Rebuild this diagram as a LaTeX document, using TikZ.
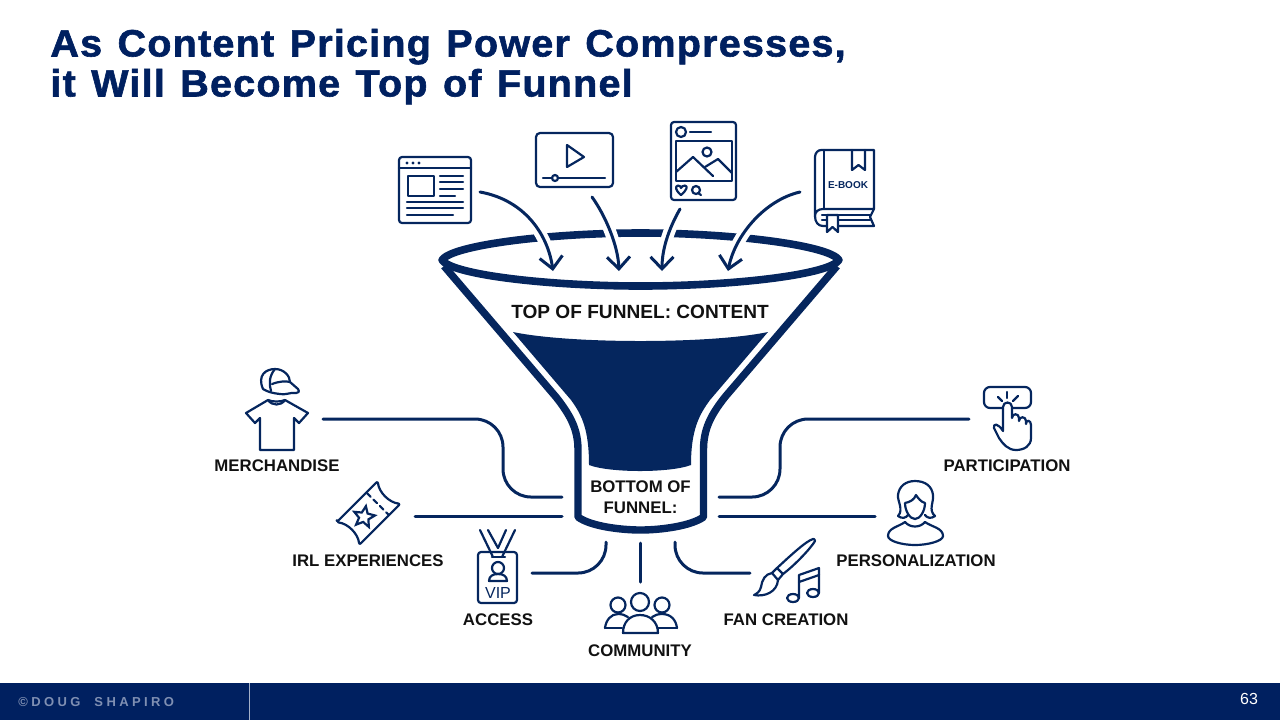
\documentclass[tikz,border=0pt]{standalone}
\usepackage{fontspec}
\setmainfont{Liberation Sans}
\newfontfamily\titlefont[LetterSpace=3.2, WordSpace=1.27, FakeStretch=1.04, BoldFeatures={FakeBold=1.6}]{Liberation Sans}
\newfontfamily\footfont[LetterSpace=26, WordSpace=2]{Liberation Sans}
\usetikzlibrary{calc, arrows.meta, shapes.geometric}
\definecolor{navy}{HTML}{002060}
\definecolor{funnelnavy}{HTML}{05265E}
\definecolor{inkblack}{HTML}{111111}
\definecolor{footgray}{HTML}{7F8FB2}
\tikzset{
  wall/.style={draw=funnelnavy, line width=3.7pt, line join=round},
  flow/.style={draw=funnelnavy, line width=1.5pt, line cap=round,
    -{Straight Barb[length=6pt,width=11.5pt,line width=1.5pt]}},
  link/.style={draw=funnelnavy, line width=1.5pt, line cap=round},
  icon/.style={draw=funnelnavy, line width=1.1pt, line join=round, line cap=round},
  tag/.style={font=\bfseries\fontsize{8.4}{10}\selectfont, text=inkblack, inner sep=0pt, align=center},
}
\begin{document}
\begin{tikzpicture}[x=0.5pt, y=-0.5pt]
  \useasboundingbox (0,0) rectangle (1280,720);

  % footer
  \fill[navy] (0,683) rectangle (1280,720);
  \draw[footgray!70!white, line width=0.5pt] (249,683) -- (249,720);
  \node[anchor=west, inner sep=0pt, text=footgray, font=\footfont\bfseries\fontsize{6.5}{8}\selectfont] (copy) at (18,702) {©DOUG SHAPIRO};
  \node[text=white, inner sep=0pt, font=\fontsize{8}{10}\selectfont] (pageno) at (1249,699) {63};

  % title
  \node[anchor=north west, inner sep=0pt, align=left, text=navy, font=\titlefont\bfseries\fontsize{19}{20}\selectfont] (title) at (50,28.5)
    {As Content Pricing Power Compresses,\\it Will Become Top of Funnel};

  % funnel
  \coordinate (rimL) at (442,260);
  \coordinate (rimR) at (839,260);
  \draw[wall, line width=3.8pt] (rimL) .. controls (452,245) and (550,233) .. (640.5,233)
    .. controls (731,233) and (829,245) .. (rimR)
    .. controls (829,275) and (731,286) .. (640.5,286)
    .. controls (550,286) and (452,275) .. (rimL) -- cycle;
  \draw[wall] (444,266) -- (556,397) .. controls (571,416) and (578,430) .. (578,450) -- (578,517)
    .. controls (590,526) and (620,530) .. (640.5,530) .. controls (661,530) and (691,526) .. (703.5,517)
    -- (703.5,450) .. controls (703.5,430) and (710,416) .. (725,397) -- (837,266);
  \fill[funnelnavy] (513,332) .. controls (570,344) and (711,344) .. (768,332)
    -- (710,400) .. controls (699,415) and (691,430) .. (691,465)
    .. controls (670,473) and (610,473) .. (589,465)
    .. controls (589,430) and (582,415) .. (571,400) -- cycle;
  \node[tag, font=\bfseries\fontsize{9.55}{12}\selectfont] (topfunnel) at (640,312) {TOP OF FUNNEL: CONTENT};
  \node[tag, font=\bfseries\fontsize{8.4}{10.6}\selectfont] (botfunnel) at (640.5,497.5) {BOTTOM OF\\FUNNEL:};

  % arrows into the funnel
  \coordinate (webout) at (480,192);
  \coordinate (videoout) at (592,197);
  \coordinate (photoout) at (680,209);
  \coordinate (bookout) at (800,192);
  \coordinate (tipA) at (553,271);
  \coordinate (tipB) at (619,271);
  \coordinate (tipC) at (662,271);
  \coordinate (tipD) at (728,271);
  \tikzset{casing/.style={preaction={draw=white, line width=6pt, -}}}
  \draw[flow, casing] (webout) .. controls (525,200) and (548,235) .. (tipA);
  \draw[flow, casing] (videoout) .. controls (605,215) and (618,245) .. (tipB);
  \draw[flow, casing] (photoout) .. controls (668,230) and (662,250) .. (tipC);
  \draw[flow, casing] (bookout) .. controls (765,200) and (735,235) .. (tipD);

  % web page
  \draw[icon, rounded corners=1.5pt] (399,157) rectangle (471,223);
  \draw[icon] (399,168) -- (471,168);
  \foreach \x in {407,413,419} \fill[funnelnavy] (\x,163) circle (1.6);
  \draw[icon] (408,176) rectangle (434,196);
  \foreach \y/\xe in {176/463,182/463,189/463,196/455} \draw[icon] (440,\y) -- (\xe,\y);
  \foreach \y/\xe in {202/463,208/463,215/453} \draw[icon] (407,\y) -- (\xe,\y);

  % video
  \draw[icon, rounded corners=2pt] (536,133) rectangle (613,187);
  \draw[icon] (567,145) -- (584,157) -- (567,167) -- cycle;
  \draw[icon] (543,178) -- (605,178);
  \draw[icon, fill=white] (555,178) circle (3);

  % photo post
  \draw[icon, rounded corners=1.5pt] (671,122) rectangle (736,200);
  \draw[icon] (681,132) circle (5);
  \draw[icon] (690,132) -- (711,132);
  \draw[icon] (676,141) rectangle (732,181);
  \draw[icon] (707,152) circle (4.5);
  \draw[icon] (676,172) -- (693,157) -- (713,176);
  \draw[icon] (705,167) -- (718,159) -- (732,173);
  \draw[icon] (681,195) .. controls (675,190) and (675,186) .. (678,185.5) .. controls (680,185.5) and (681,187) .. (681,188)
    .. controls (681,187) and (683,185.5) .. (685,185.5) .. controls (688,186) and (687,190) .. (681,195) -- cycle;
  \draw[icon] (696,190) circle (4);
  \draw[icon] (698,193) -- (701,195);

  % book
  \draw[icon] (821,150) -- (874,150) -- (874,209) -- (823,209) .. controls (818,209) and (815,212) .. (815,216) -- (815,157) .. controls (815,153) and (818,150) .. (821,150) -- cycle;
  \draw[icon] (815,216) .. controls (815,222) and (818,226) .. (823,226) -- (874,226);
  \draw[icon] (824,150) -- (824,209);
  \draw[icon] (822,215) -- (870,215);
  \draw[icon] (822,220) -- (870,220);
  \draw[icon] (874,209) -- (870,217) -- (874,226);
  \draw[icon] (852,150) -- (852,170) -- (858.5,165) -- (865,170) -- (865,150);
  \draw[icon, fill=white] (827,215) -- (827,232) -- (832.5,227) -- (838,232) -- (838,215) -- cycle;
  \node[inner sep=0pt, text=funnelnavy, font=\bfseries\fontsize{5}{6}\selectfont] (ebook) at (848,185) {E-BOOK};

  % connectors at the bottom of the funnel
  \coordinate (merchout) at (323,419);
  \coordinate (merchturn) at (503,497);
  \coordinate (botmerch) at (562,497);
  \coordinate (irlout) at (415,516);
  \coordinate (botirl) at (562,516);
  \coordinate (accessout) at (532,573);
  \coordinate (botaccess) at (606,542);
  \coordinate (commout) at (640,582);
  \coordinate (botcomm) at (640,543);
  \coordinate (fanout) at (750,573);
  \coordinate (botfan) at (675,542);
  \coordinate (persout) at (875,516);
  \coordinate (botpers) at (719,516);
  \coordinate (partout) at (969,419);
  \coordinate (partturn) at (780,497);
  \coordinate (botpart) at (719,497);

  \draw[link, rounded corners=14pt] (merchout) -| (merchturn) -- (botmerch);
  \draw[link] (irlout) -- (botirl);
  \draw[link, rounded corners=14pt] (accessout) -| (botaccess);
  \draw[link] (commout) -- (botcomm);
  \draw[link, rounded corners=14pt] (botfan) |- (fanout);
  \draw[link] (persout) -- (botpers);
  \draw[link, rounded corners=14pt] (partout) -| (partturn) -- (botpart);

  % shirt and cap
  \draw[icon] (268,400) .. controls (272,406) and (281,406) .. (285,400) -- (308,413) -- (299,423) -- (294,418) -- (294,450) -- (260,450) -- (260,418) -- (255,423) -- (246,413) -- cycle;
  \draw[icon] (268,400) .. controls (272,402) and (281,402) .. (285,400);
  \draw[icon] (263,389) .. controls (257,375) and (266,369) .. (275,369) .. controls (284,369) and (290,376) .. (290,382)
    -- (298,389) .. controls (300,392) and (298,393) .. (296,393) .. controls (290,392) and (288,395) .. (280,394) .. controls (272,393) and (268,392) .. (263,389) -- cycle;
  \draw[icon] (275,369) .. controls (269,376) and (269,384) .. (271,391);
  \draw[icon] (272,384) .. controls (280,381) and (286,381) .. (290,382);
  \node[tag] (merch) at (277,466) {MERCHANDISE};

  % ticket
  \begin{scope}[shift={(368.5,513)}, rotate=45]
    \draw[icon, rounded corners=1pt] (-29,-16) -- (29,-16) .. controls (22,-7) and (22,7) .. (29,16)
      -- (-29,16) .. controls (-22,7) and (-22,-7) .. (-29,-16) -- cycle;
    \draw[icon, dash pattern=on 2.5pt off 2pt] (13,-15) -- (13,15);
  \end{scope}
  \node[star, star points=5, star point ratio=2.2, draw=funnelnavy, line width=1.1pt, minimum size=11pt, inner sep=0pt, shape border rotate=-10] (ticketstar) at (364,517) {};
  \node[tag] (irl) at (368,561) {IRL EXPERIENCES};

  % badge
  \draw[icon, rounded corners=1.5pt] (478,552) rectangle (517,603);
  \draw[icon] (480,530) -- (493,557);
  \draw[icon] (488,530) -- (498,548);
  \draw[icon] (515,530) -- (502,557);
  \draw[icon] (506,530) -- (498,548);
  \draw[icon] (492,557) -- (505,557);
  \draw[icon] (498,568) circle (6);
  \draw[icon] (489,581) .. controls (489,576) and (493,574) .. (498,574) .. controls (503,574) and (507,576) .. (507,581) -- cycle;
  \node[inner sep=0pt, text=funnelnavy, font=\fontsize{8}{9}\selectfont] (vip) at (498,592.5) {VIP};
  \node[tag] (access) at (498,620) {ACCESS};

  % people
  \draw[icon] (618,605) circle (7.5);
  \draw[icon] (662,605) circle (7.5);
  \draw[icon] (605,628) .. controls (606,620) and (611,614) .. (618,614) .. controls (622,614) and (625,615) .. (628,617);
  \draw[icon] (605,628) -- (622,628);
  \draw[icon] (677,628) .. controls (676,620) and (671,614) .. (662,614) .. controls (658,614) and (655,615) .. (652,617);
  \draw[icon] (677,628) -- (658,628);
  \draw[icon] (640,602) circle (9);
  \draw[icon, fill=white] (623,633) .. controls (623,622) and (630,615) .. (640,615) .. controls (650,615) and (658,622) .. (658,633) -- cycle;
  \node[tag] (community) at (640,651) {COMMUNITY};

  % brush and notes
  \draw[icon] (813,539) .. controls (806,541) and (790,556) .. (777,568) -- (783,574) .. controls (795,565) and (811,548) .. (815,541) .. controls (815,539) and (814,539) .. (813,539) -- cycle;
  \draw[icon] (777,568) -- (772,573) -- (778,580) -- (783,574);
  \draw[icon] (772,573) .. controls (765,574) and (762,580) .. (761,587) .. controls (760,592) and (756,594) .. (754,595) .. controls (765,597) and (777,592) .. (778,580);
  \draw[icon] (793,598) ellipse (6 and 4);
  \draw[icon] (813,593) ellipse (6 and 4);
  \draw[icon] (799,598) -- (799,575) -- (819,568) -- (819,593);
  \draw[icon] (799,582) -- (819,575);
  \node[tag] (fan) at (786,620) {FAN CREATION};

  % person
  \draw[icon] (898,516) .. controls (904,510) and (897,500) .. (898,495) .. controls (899,486) and (906,481) .. (915,481)
    .. controls (925,481) and (932,486) .. (933,495) .. controls (934,502) and (928,510) .. (935,516) .. controls (931,519) and (927,518) .. (925,515);
  \draw[icon] (898,516) .. controls (902,519) and (906,518) .. (908,515);
  \draw[icon] (905,503) .. controls (905,511) and (910,519) .. (915,519) .. controls (920,519) and (925,511) .. (925,503) .. controls (921,502) and (918,498) .. (916,495) .. controls (914,500) and (910,502) .. (905,503) -- cycle;
  \draw[icon] (905,522) .. controls (898,527) and (888,528) .. (888,536) .. controls (888,541) and (902,545) .. (915,545)
    .. controls (928,545) and (943,541) .. (943,536) .. controls (943,528) and (932,527) .. (925,522);
  \draw[icon] (905,522) .. controls (910,528) and (920,528) .. (925,522);
  \node[tag] (personal) at (916,561) {PERSONALIZATION};

  % hand on a button
  \draw[icon, rounded corners=3pt] (1003,408) -- (984,408) -- (984,387) -- (1031,387) -- (1031,408) -- (1012,408);
  \draw[icon] (1007,392) -- (1007,398);
  \draw[icon] (998,397) -- (1002,401);
  \draw[icon] (1018,396) -- (1013,401);
  \draw[icon] (1003,431) -- (1003,407) .. controls (1003,401) and (1012,401) .. (1012,407) -- (1012,418)
    .. controls (1012,413) and (1019,413) .. (1019,418) -- (1019,421) .. controls (1019,416) and (1026,416) .. (1026,421) -- (1026,424)
    .. controls (1026,419) and (1031,420) .. (1031,425) -- (1031,438) .. controls (1031,446) and (1024,450) .. (1016,450)
    .. controls (1008,450) and (1003,444) .. (999,438) -- (994,428) .. controls (993,423) and (998,423) .. (1003,431) -- cycle;
  \node[tag] (participation) at (1007,466) {PARTICIPATION};
\end{tikzpicture}
\end{document}
